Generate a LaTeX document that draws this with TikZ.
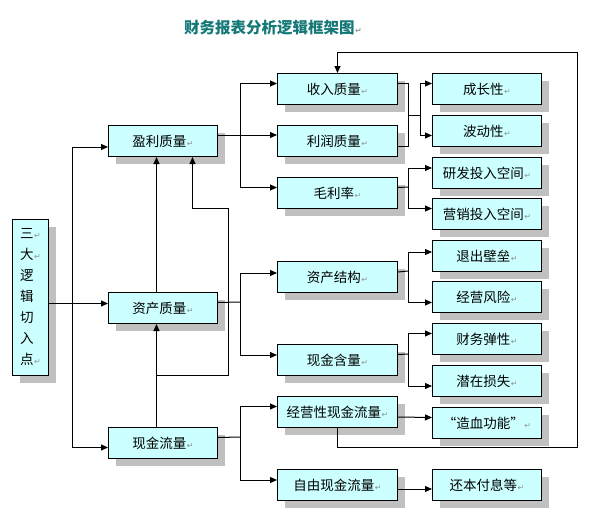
\documentclass[tikz,border=0pt]{standalone}
\usepackage{fontspec}
\setmainfont{Noto Sans CJK SC}
\newfontfamily\dejavu{DejaVu Sans}
\usetikzlibrary{arrows.meta,shadows,calc}
\definecolor{boxfill}{RGB}{204,255,255}
\definecolor{shadowgray}{RGB}{192,192,192}
\definecolor{retgray}{RGB}{140,150,150}
\definecolor{titleteal}{RGB}{20,120,120}
\newcommand{\retmk}{\hspace{0.5pt}\textcolor{retgray}{\dejavu\fontsize{8}{8}\selectfont ↵}}
\tikzset{
  box/.style={draw=black, line width=1pt, fill=boxfill, minimum height=31pt,
    inner sep=0pt, anchor=north west, font=\fontsize{13.5}{16}\selectfont,
    drop shadow={shadow xshift=7.5pt, shadow yshift=-7.5pt, opacity=1, fill=shadowgray}},
  cA/.style={box, minimum width=109pt},
  cB/.style={box, minimum width=120pt},
  cC/.style={box, minimum width=109pt},
  conn/.style={draw=black, line width=1pt},
  arr/.style={conn, -{Triangle[length=7pt,width=6pt]}}
}
\begin{document}
\begin{tikzpicture}[x=1pt,y=-1pt]
\useasboundingbox[fill=white] (0,0) rectangle (598,512);
% title
\node[font=\fontsize{15.5}{18}\selectfont\bfseries, text=titleteal, inner sep=0pt] (title) at (273,28) {财务报表分析逻辑框架图\retmk};
% left box
\node[box, minimum width=36pt, minimum height=156pt, align=left, font=\fontsize{13.5}{21}\selectfont] (sanda) at (12,219)
  {三\retmk\\大\retmk\\逻\\辑\\切\\入\\点\retmk};
% column 1
\node[cA] (yingli) at (108,125) {盈利质量\retmk};
\node[cA] (zichan) at (108,292) {资产质量\retmk};
\node[cA] (xianjin) at (108,427) {现金流量\retmk};
% column 2
\node[cB] (shouru) at (277,73) {收入质量\retmk};
\node[cB] (lirun) at (277,125) {利润质量\retmk};
\node[cB] (maoli) at (277,177) {毛利率\retmk};
\node[cB] (zcjg) at (277,261) {资产结构\retmk};
\node[cB] (xjhl) at (277,344) {现金含量\retmk};
\node[cB] (jyx) at (277,396) {经营性现金流量\retmk};
\node[cB] (ziyou) at (277,469) {自由现金流量\retmk};
% column 3
\node[cC] (chengzhang) at (432,73) {成长性\retmk};
\node[cC] (bodong) at (432,115) {波动性\retmk};
\node[cC] (yanfa) at (432,157) {研发投入空间\retmk};
\node[cC] (yingxiao) at (432,198) {营销投入空间\retmk};
\node[cC] (tuichu) at (432,240) {退出壁垒\retmk};
\node[cC] (jyfx) at (432,281) {经营风险\retmk};
\node[cC] (caiwu) at (432,323) {财务弹性\retmk};
\node[cC] (qianzai) at (432,365) {潜在损失\retmk};
\node[cC] (zaoxue) at (432,407) {“造血功能”\retmk};
\node[cC] (huanben) at (432,469) {还本付息等\retmk};
% left trunk
\coordinate (t1) at (72,303);
\draw[arr] ([yshift=-6pt]sanda.east) -- ([yshift=4.5pt]zichan.west);
\draw[arr] (t1) |- ([yshift=-6pt]yingli.west);
\draw[arr] (t1) |- ([yshift=-4.5pt]xianjin.west);
% vertical links between column 1 boxes
\draw[arr] ([xshift=-6.5pt]zichan.north) -- ([xshift=-6.5pt]yingli.south);
\draw[arr] ([xshift=-6.5pt]xianjin.north) -- ([xshift=-6.5pt]zichan.south);
\coordinate (v1) at (156,375);
\coordinate (v2) at (228,208);
\draw[arr] (v1) -| (v2) -| ([xshift=29.5pt]yingli.south);
% column 1 -> column 2
\coordinate (j1) at (240,135);
\draw[arr] ([yshift=6pt]yingli.east) -- ([yshift=6pt]lirun.west);
\draw[arr] (j1) |- ([yshift=5.5pt]shouru.west);
\draw[arr] (j1) |- ([yshift=5.5pt]maoli.west);
\coordinate (j2) at (240,302);
\draw[conn] ([yshift=5.5pt]zichan.east) -- (j2);
\draw[arr] (j2) |- ([yshift=4pt]zcjg.west);
\draw[arr] (j2) |- ([yshift=5pt]xjhl.west);
\coordinate (j3) at (240,437);
\draw[conn] ([yshift=5.5pt]xianjin.east) -- (j3);
\draw[arr] (j3) |- ([yshift=5.5pt]jyx.west);
\draw[arr] (j3) |- ([yshift=5pt]ziyou.west);
% column 2 -> column 3
\coordinate (k1) at (408,115);
\coordinate (k2) at (420,115);
\draw[conn] ([yshift=5.5pt]shouru.east) -| (k1);
\draw[conn] ([yshift=-5pt]lirun.east) -| (k1);
\draw[conn] (k1) -- (k2);
\draw[arr] (k2) |- ([yshift=5.5pt]chengzhang.west);
\draw[arr] (k2) |- ([yshift=-4.5pt]bodong.west);
\coordinate (k3) at (408,187);
\draw[conn] ([yshift=5.5pt]maoli.east) -- (k3);
\draw[arr] (k3) |- ([yshift=5pt]yanfa.west);
\draw[arr] (k3) |- ([yshift=5.5pt]yingxiao.west);
\coordinate (k4) at (408,271);
\draw[conn] ([yshift=5pt]zcjg.east) -- (k4);
\draw[arr] (k4) |- ([yshift=4pt]tuichu.west);
\draw[arr] (k4) |- ([yshift=-5.5pt]jyfx.west);
\coordinate (k5) at (408,354);
\draw[conn] ([yshift=5.5pt]xjhl.east) -- (k5);
\draw[arr] (k5) |- ([yshift=5.5pt]caiwu.west);
\draw[arr] (k5) |- ([yshift=-5pt]qianzai.west);
\draw[arr] ([yshift=-5pt]jyx.east) -- ([yshift=5.5pt]zaoxue.west);
\draw[arr] ([yshift=-4pt]ziyou.east) -- ([yshift=-4pt]huanben.west);
% feedback loop
\coordinate (f1) at (577,447);
\coordinate (f2) at (577,52);
\draw[arr] (jyx.south) |- (f1) -- (f2) -| (shouru.north);
\end{tikzpicture}
\end{document}
